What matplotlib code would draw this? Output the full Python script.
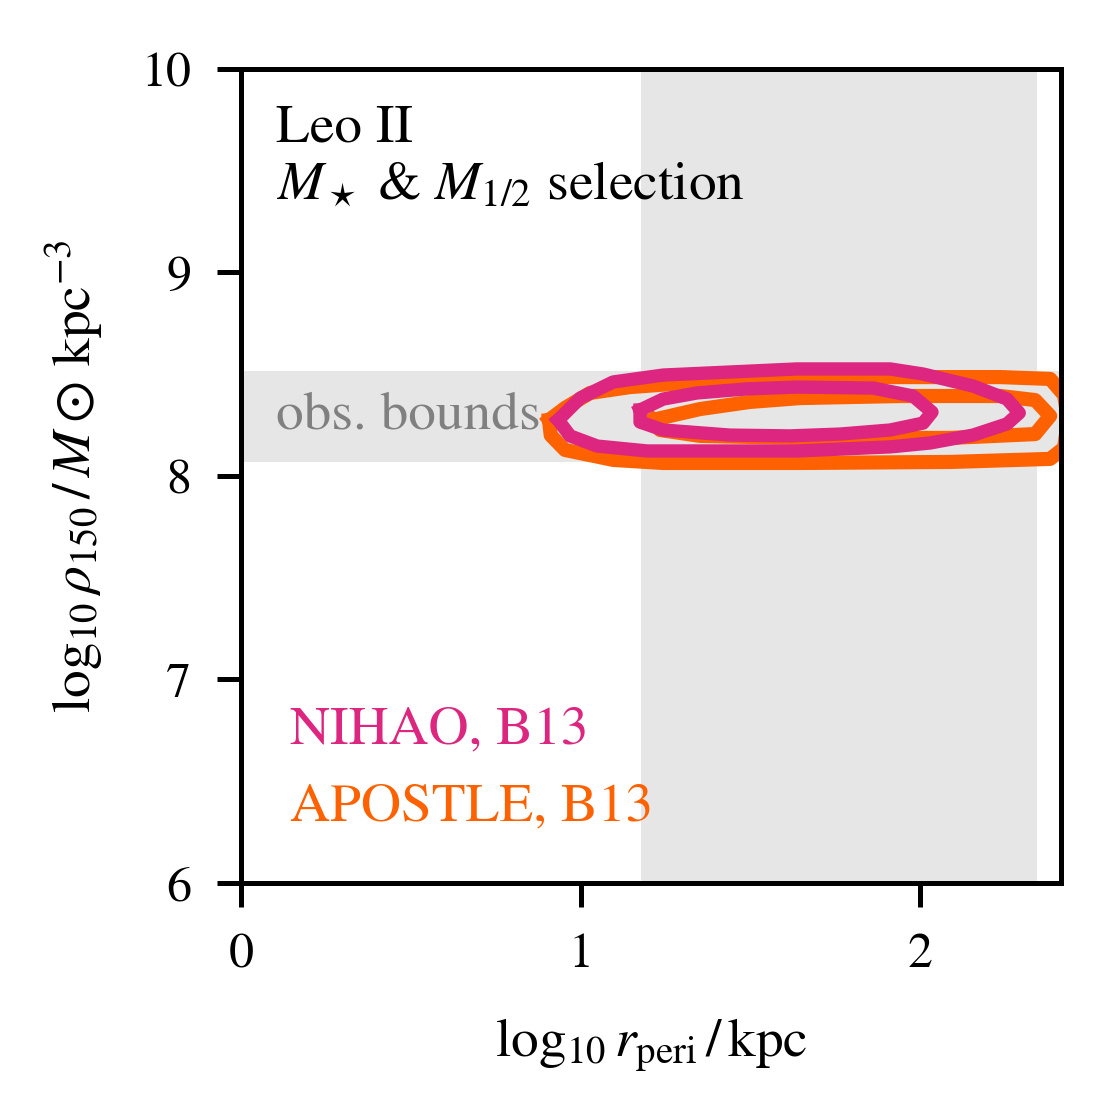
import numpy as np
import matplotlib.pyplot as plt

plt.rcParams['font.family'] = 'serif'
plt.rcParams['font.serif'] = ['STIXGeneral', 'Liberation Serif', 'DejaVu Serif']
plt.rcParams['mathtext.fontset'] = 'stix'
plt.rcParams['font.size'] = 13.3

# --- observational bounds ---
rperi_lo, rperi_hi = 1.178, 2.345
rho_lo, rho_hi = 8.069, 8.516

# --- contour outlines (log10 r_peri, log10 rho_150) ---
apostle_outer_x = [0.907, 0.954, 1.028, 1.146, 1.352, 1.617, 1.912, 2.236, 2.383, 2.424,
                   2.436, 2.424, 2.383, 2.088, 1.647, 1.243, 1.096, 0.954, 0.912]
apostle_outer_y = [8.275, 8.334, 8.408, 8.437, 8.462, 8.482, 8.486, 8.486, 8.477, 8.398,
                   8.275, 8.138, 8.084, 8.069, 8.064, 8.064, 8.079, 8.128, 8.200]

apostle_inner_x = [1.211, 1.352, 1.499, 1.647, 1.941, 2.236, 2.339, 2.383, 2.339, 2.088,
                   1.647, 1.352, 1.234]
apostle_inner_y = [8.275, 8.329, 8.364, 8.383, 8.393, 8.393, 8.373, 8.295, 8.206, 8.187,
                   8.187, 8.197, 8.226]

nihao_outer_x = [0.934, 0.999, 1.096, 1.243, 1.440, 1.638, 1.912, 2.009, 2.156, 2.256,
                 2.292, 2.256, 2.156, 2.029, 1.912, 1.638, 1.196, 1.049, 0.969]
nihao_outer_y = [8.275, 8.383, 8.462, 8.496, 8.511, 8.526, 8.526, 8.501, 8.442, 8.378,
                 8.310, 8.256, 8.201, 8.162, 8.143, 8.123, 8.123, 8.147, 8.197]

nihao_inner_x = [1.175, 1.243, 1.343, 1.490, 1.638, 1.862, 1.979, 2.035, 2.009, 1.912,
                 1.764, 1.617, 1.440, 1.243, 1.175]
nihao_inner_y = [8.324, 8.378, 8.408, 8.428, 8.437, 8.432, 8.393, 8.314, 8.260, 8.226,
                 8.206, 8.197, 8.201, 8.226, 8.265]

c_nihao = '#dc267f'
c_apostle = '#fe6100'


def closed(xs, ys):
    return np.append(xs, xs[0]), np.append(ys, ys[0])


fig = plt.figure(figsize=(1111 / 300, 1118 / 300), dpi=300)
ax = fig.add_axes([0.217, 0.2102, 0.738, 0.7281])

# grey bands
ax.axvspan(rperi_lo, rperi_hi, color='0.9', lw=0, zorder=0)
ax.axhspan(rho_lo, rho_hi, color='0.9', lw=0, zorder=0)

ax.text(0.103, 8.235, 'obs. bounds', color='0.5', zorder=1)

# contours
for xs, ys in [(apostle_outer_x, apostle_outer_y), (apostle_inner_x, apostle_inner_y)]:
    cx, cy = closed(xs, ys)
    ax.plot(cx, cy, color=c_apostle, lw=3.4, solid_joinstyle='round', zorder=2)
for xs, ys in [(nihao_outer_x, nihao_outer_y), (nihao_inner_x, nihao_inner_y)]:
    cx, cy = closed(xs, ys)
    ax.plot(cx, cy, color=c_nihao, lw=3.2, solid_joinstyle='round', zorder=3)

ax.set_xlim(0, 2.415)
ax.set_ylim(6, 10)
ax.set_xticks([0, 1, 2])
ax.set_yticks([6, 7, 8, 9, 10])

ax.set_xlabel(r'$\log_{10} r_\mathrm{peri}\,/\,\mathrm{kpc}$', labelpad=9)
ax.set_ylabel(r'$\log_{10} \rho_{150}\,/\,M\odot\,\mathrm{kpc}^{-3}$', labelpad=8.5)

for s in ax.spines.values():
    s.set_linewidth(1.2)
ax.tick_params(direction='out', length=5.7, width=1.2, labelsize=12, pad=6.3)

ax.text(0.043, 0.9115, 'Leo II', transform=ax.transAxes)
ax.text(0.043, 0.840, r'$M_\star$ & $M_{1/2}$ selection', transform=ax.transAxes)

ax.text(0.060, 0.172, 'NIHAO, B13', color=c_nihao, transform=ax.transAxes)
ax.text(0.060, 0.0774, 'APOSTLE, B13', color=c_apostle, transform=ax.transAxes)

fig.savefig('out.png', dpi=300)
